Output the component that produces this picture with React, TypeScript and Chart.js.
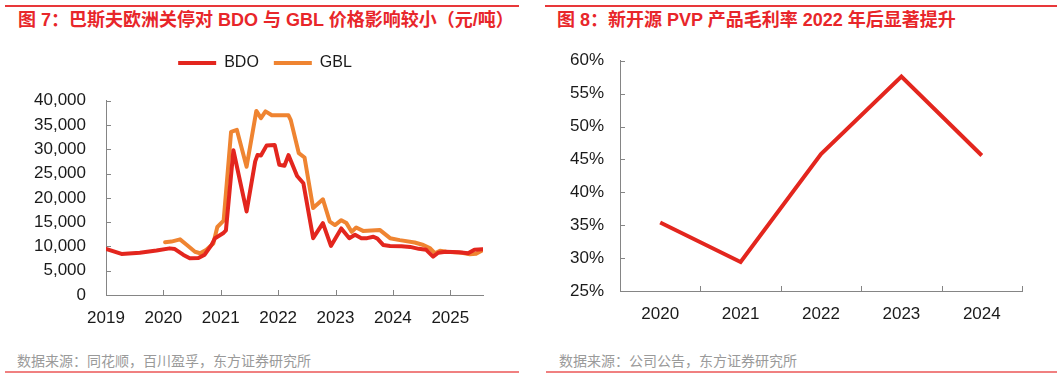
import React, { useEffect, useRef } from 'react';
import { Chart, registerables } from 'chart.js';

Chart.register(...registerables);

// ---- Left chart data (元/吨), x = decimal year ----
const bdoYears = [
  2019.0, 2019.27, 2019.59, 2019.88, 2020.11, 2020.2, 2020.35, 2020.46, 2020.61, 2020.72,
  2020.84, 2020.9, 2021.04, 2021.09, 2021.22, 2021.45, 2021.6, 2021.64, 2021.7, 2021.8,
  2021.94, 2022.02, 2022.11, 2022.18, 2022.33, 2022.44, 2022.61, 2022.78, 2022.92, 2023.1,
  2023.24, 2023.34, 2023.45, 2023.55, 2023.66, 2023.73, 2023.83, 2023.95, 2024.15, 2024.3,
  2024.45, 2024.58, 2024.7, 2024.79, 2024.92, 2025.15, 2025.31, 2025.42, 2025.56,
];
const bdoValues = [
  9500, 8450, 8700, 9150, 9600, 9450, 8250, 7550, 7600, 8300,
  10300, 11700, 12700, 13300, 29800, 17200, 27500, 28800, 28700, 30800,
  30900, 26800, 26600, 28800, 24500, 23000, 11700, 14800, 10100, 13700,
  11700, 12400, 11700, 11700, 12000, 11600, 10300, 10100, 10050, 9900,
  9500, 9300, 7900, 8700, 8900, 8800, 8600, 9300, 9400,
];
const gblYears = [
  2020.03, 2020.14, 2020.29, 2020.41, 2020.55, 2020.64, 2020.75, 2020.87, 2020.94, 2021.05,
  2021.18, 2021.28, 2021.45, 2021.62, 2021.7, 2021.78, 2021.89, 2022.18, 2022.22, 2022.36,
  2022.46, 2022.61, 2022.78, 2022.9, 2022.99, 2023.1, 2023.19, 2023.28, 2023.36, 2023.48,
  2023.77, 2023.95, 2024.12, 2024.38, 2024.53, 2024.65, 2024.73, 2024.82, 2024.93, 2025.2,
  2025.34, 2025.45, 2025.56,
];
const gblValues = [
  10850, 11000, 11450, 10300, 8900, 8600, 9300, 10600, 14000, 15300,
  33600, 34000, 26400, 37900, 36400, 37800, 37000, 37000, 36000, 29200,
  28300, 17900, 19700, 15100, 14400, 15400, 14800, 13000, 13900, 13200,
  13400, 11700, 11300, 10800, 10300, 9600, 8600, 9100, 8900, 8700,
  8400, 8500, 9200,
];
const yearTicks = [2019, 2020, 2021, 2022, 2023, 2024, 2025];

// ---- Right chart data (%) ----
const marginYears = ['2020', '2021', '2022', '2023', '2024'];
const marginValues = [35.4, 29.4, 45.8, 57.6, 45.6];

const RED = '#e3261e';
const ORANGE = '#ef8431';
const AXIS = '#858585';
const TEXT = '#1a1a1a';
const LATIN = '"Liberation Sans", Arial, Helvetica, sans-serif';
const TICK_FONT = { family: LATIN, size: 17 };

const innerTicks = {
  id: 'innerTicks',
  beforeDatasetsDraw(chart: any, _args: any, opts: any) {
    const { ctx, chartArea, scales } = chart;
    const len = opts.length || 5;
    ctx.save();
    ctx.strokeStyle = opts.color || AXIS;
    ctx.lineWidth = 1;
    ctx.beginPath();
    const xs: number[] = [];
    if (opts.category) {
      const n = scales.x.ticks.length;
      for (let i = 0; i <= n; i++) xs.push(scales.x.getPixelForValue(i - 0.5));
    } else {
      scales.x.ticks.forEach((_t: any, i: number) => xs.push(scales.x.getPixelForTick(i)));
    }
    xs.forEach((px) => {
      const p = Math.round(px) + 0.5;
      ctx.moveTo(p, chartArea.bottom);
      ctx.lineTo(p, chartArea.bottom - len);
    });
    scales.y.ticks.forEach((_t: any, i: number) => {
      const py = Math.round(scales.y.getPixelForTick(i)) + 0.5;
      ctx.moveTo(chartArea.left, py);
      ctx.lineTo(chartArea.left + len, py);
    });
    ctx.stroke();
    ctx.restore();
  },
};

function LeftChart() {
  const ref = useRef<HTMLCanvasElement>(null);
  useEffect(() => {
    const chart = new Chart(ref.current as HTMLCanvasElement, {
      type: 'line',
      data: {
        datasets: [
          {
            label: 'BDO',
            data: bdoYears.map((x, i) => ({ x, y: bdoValues[i] })),
            borderColor: RED,
            backgroundColor: RED,
            borderWidth: 4,
            pointRadius: 0,
            tension: 0,
            borderJoinStyle: 'round',
            borderCapStyle: 'round',
          },
          {
            label: 'GBL',
            data: gblYears.map((x, i) => ({ x, y: gblValues[i] })),
            borderColor: ORANGE,
            backgroundColor: ORANGE,
            borderWidth: 4,
            pointRadius: 0,
            tension: 0,
            borderJoinStyle: 'round',
            borderCapStyle: 'round',
          },
        ],
      },
      options: {
        animation: false,
        responsive: false,
        layout: { padding: { top: 22, right: 0, bottom: 0, left: 0 } },
        plugins: {
          legend: {
            display: true,
            position: 'top',
            labels: {
              usePointStyle: true,
              pointStyle: 'line',
              pointStyleWidth: 38,
              padding: 15,
              color: TEXT,
              font: { family: LATIN, size: 16 },
            },
          },
          // empty spacer between the legend and the plot area
          title: {
            display: true,
            text: ' ',
            position: 'top',
            weight: 500,
            padding: { top: 7.7, bottom: 0 },
            font: { size: 10 },
          },
          tooltip: { enabled: false },
          innerTicks: { length: 5, color: AXIS },
        } as any,
        scales: {
          x: {
            type: 'linear',
            min: 2019,
            max: 2025.57,
            grid: { display: false, drawTicks: false },
            border: { color: AXIS, width: 1 },
            ticks: { padding: 13, color: TEXT, font: TICK_FONT, callback: (v: any) => String(v) },
            afterBuildTicks: (s: any) => {
              s.ticks = yearTicks.map((v) => ({ value: v }));
            },
            afterFit: (s: any) => {
              s.height = 45;
              s.paddingRight = 47;
            },
          },
          y: {
            min: 0,
            max: 40000,
            grid: { display: false, drawTicks: false },
            border: { color: AXIS, width: 1 },
            ticks: {
              stepSize: 5000,
              padding: 20,
              color: TEXT,
              font: TICK_FONT,
              callback: (v: any) => Number(v).toLocaleString('en-US'),
            },
            afterFit: (s: any) => {
              s.width = 106;
              s.paddingTop = 100.7;
            },
          },
        } as any,
      },
      plugins: [innerTicks],
    } as any);
    return () => chart.destroy();
  }, []);
  return <canvas ref={ref} width={530} height={340} style={{ position: 'absolute', left: 0, top: 0 }} />;
}

function RightChart() {
  const ref = useRef<HTMLCanvasElement>(null);
  useEffect(() => {
    const chart = new Chart(ref.current as HTMLCanvasElement, {
      type: 'line',
      data: {
        labels: marginYears,
        datasets: [
          {
            label: '毛利率',
            data: marginValues,
            borderColor: RED,
            backgroundColor: RED,
            borderWidth: 4,
            pointRadius: 0,
            tension: 0,
            borderJoinStyle: 'miter',
          },
        ],
      },
      options: {
        animation: false,
        responsive: false,
        layout: { padding: { top: 0, right: 39, bottom: 0, left: 0 } },
        plugins: {
          legend: { display: false },
          tooltip: { enabled: false },
          innerTicks: { length: 5, color: AXIS, category: true },
        } as any,
        scales: {
          x: {
            type: 'category',
            offset: true,
            grid: { display: false, drawTicks: false },
            border: { color: AXIS, width: 1 },
            ticks: { padding: 13, color: TEXT, font: TICK_FONT },
            afterFit: (s: any) => {
              s.height = 49;
            },
          },
          y: {
            min: 25,
            max: 60,
            grid: { display: false, drawTicks: false },
            border: { color: AXIS, width: 1 },
            ticks: {
              stepSize: 5,
              padding: 16,
              color: TEXT,
              font: TICK_FONT,
              callback: (v: any) => `${v}%`,
            },
            afterFit: (s: any) => {
              s.width = 90;
              s.paddingTop = 60.7;
            },
          },
        } as any,
      },
      plugins: [innerTicks],
    } as any);
    return () => chart.destroy();
  }, []);
  return <canvas ref={ref} width={531} height={340} style={{ position: 'absolute', left: 530, top: 0 }} />;
}

const TITLE_FONT = '"Liberation Sans", "Noto Sans CJK SC", sans-serif';
const CJK_FONT = '"Noto Sans CJK SC", "Liberation Sans", sans-serif';

export default function App() {
  const titleStyle: React.CSSProperties = {
    position: 'absolute',
    top: 8,
    fontFamily: TITLE_FONT,
    fontWeight: 700,
    fontSize: 18,
    lineHeight: '24px',
    color: '#e8262a',
    whiteSpace: 'nowrap',
  };
  const srcStyle: React.CSSProperties = {
    position: 'absolute',
    top: 351,
    fontFamily: CJK_FONT,
    fontSize: 14,
    lineHeight: '18px',
    color: '#9a9a9a',
    whiteSpace: 'nowrap',
  };
  const line = (left: number, width: number, top: number, h: number, color: string): React.CSSProperties => ({
    position: 'absolute',
    left,
    width,
    top,
    height: h,
    background: color,
  });
  return (
    <div style={{ position: 'absolute', left: 0, top: 0, width: 1061, height: 379, background: '#fff', overflow: 'hidden' }}>
      <div style={line(5, 514, 5, 1.5, '#e8383a')} />
      <div style={line(545, 512, 5, 1.5, '#e8383a')} />
      <div style={{ ...titleStyle, left: 18 }}>图 7：巴斯夫欧洲关停对 BDO 与 GBL 价格影响较小（元/吨）</div>
      <div style={{ ...titleStyle, left: 557 }}>图 8：新开源 PVP 产品毛利率 2022 年后显著提升</div>
      <LeftChart />
      <RightChart />
      <div style={{ ...srcStyle, left: 17 }}>数据来源：同花顺，百川盈孚，东方证券研究所</div>
      <div style={{ ...srcStyle, left: 559 }}>数据来源：公司公告，东方证券研究所</div>
      <div style={line(5, 514, 371, 2, '#f08080')} />
      <div style={line(546, 511, 371, 2, '#f08080')} />
    </div>
  );
}
